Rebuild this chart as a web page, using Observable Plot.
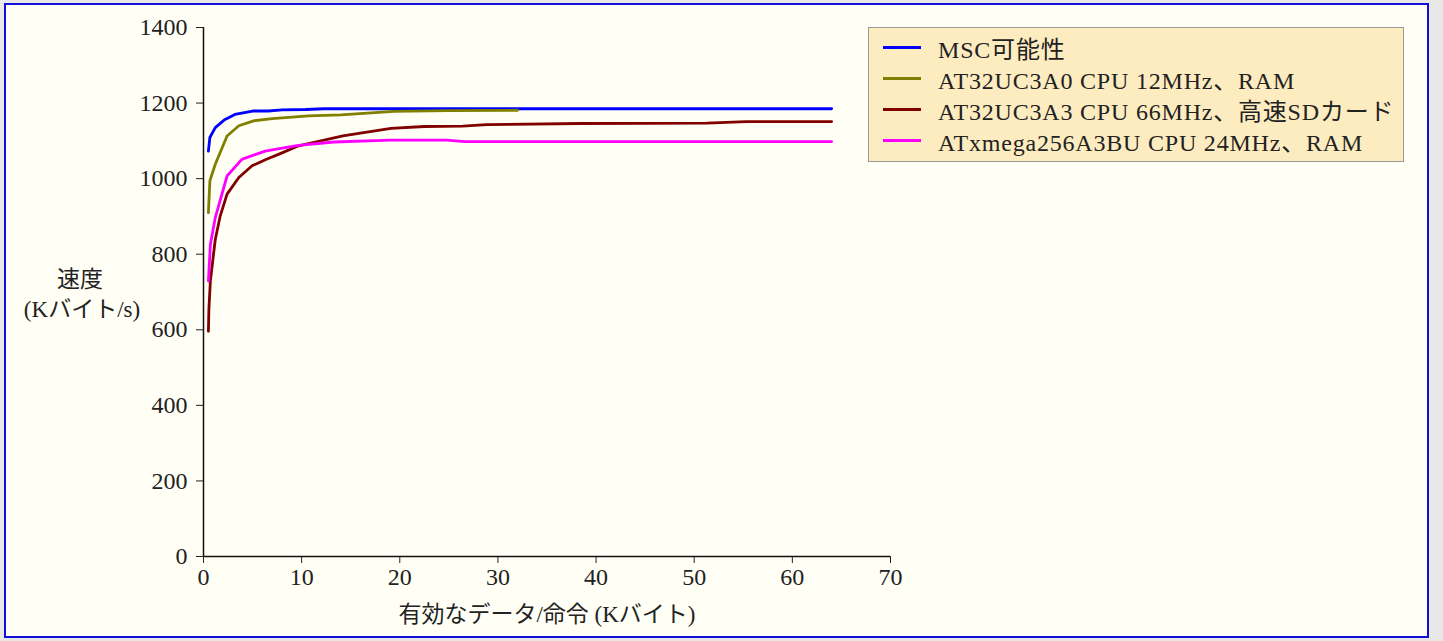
<!DOCTYPE html>
<html>
<head>
<meta charset="utf-8">
<script src="https://cdn.jsdelivr.net/npm/d3@7"></script>
<script src="https://cdn.jsdelivr.net/npm/@observablehq/plot@0.6"></script>
<style>
  html, body { margin: 0; padding: 0; }
  body { width: 1443px; height: 641px; background: #e8e8e8; position: relative; overflow: hidden;
         font-family: "Liberation Serif", "Noto Sans CJK JP", serif; color: #222; }
  #frame { position: absolute; left: 4px; top: 3px; width: 1421px; height: 631px;
           border: 2px solid #1010d8; background: #fffff6; }
  #chart { position: absolute; left: 0; top: 0; }
  #legend { position: absolute; left: 868px; top: 27px; width: 534px; height: 133px;
            background: #fdecc0; border: 1.5px solid #9a9a9a; }
  .row { position: absolute; left: 0; height: 31px; display: flex; align-items: center; font-size: 24px; white-space: nowrap; letter-spacing: 0.8px; }
  .swatch { width: 38px; height: 3px; margin-left: 14px; margin-right: 17px; }
  .title { position: absolute; font-size: 23px; white-space: nowrap; transform: translate(-50%, -50%); }
</style>
</head>
<body>
<div id="frame"></div>
<div id="chart"></div>
<div id="legend"></div>
<div class="title" style="left:80px; top:277px;">速度</div>
<div class="title" style="left:82px; top:307px;">(Kバイト/s)</div>
<div class="title" style="left:547px; top:612px;">有効なデータ/命令 (Kバイト)</div>
<script>
const seriesNames = ["MSC可能性", "AT32UC3A0 CPU 12MHz、RAM", "AT32UC3A3 CPU 66MHz、高速SDカード", "ATxmega256A3BU CPU 24MHz、RAM"];
const seriesColors = ["#0000ff", "#808000", "#800000", "#ff00ff"];

const mscX = [0.5, 0.65, 1.2, 2.1, 3.2, 5.0, 6.6, 8.0, 10.4, 12.3, 20, 32, 48, 64];
const mscY = [1073, 1109, 1135, 1155, 1170, 1179, 1179, 1182, 1183, 1185, 1185, 1185, 1185, 1185];

const a0X = [0.5, 0.65, 1.2, 2.4, 3.6, 5.1, 7.0, 10.7, 14, 19.4, 25, 32];
const a0Y = [910, 994, 1038, 1113, 1140, 1153, 1159, 1166, 1169, 1178, 1180, 1181];

const a3X = [0.5, 0.55, 0.7, 1.2, 1.7, 2.4, 3.6, 4.95, 6.3, 7.7, 9.7, 14.2, 19.1, 22.5, 26.4, 28.9, 38.4, 51.3, 55.3, 64];
const a3Y = [596, 654, 729, 839, 901, 959, 1003, 1034, 1050, 1065, 1087, 1113, 1133, 1138, 1139, 1143, 1146, 1147, 1151, 1151];

const xmX = [0.5, 0.7, 1.2, 2.4, 3.9, 6.3, 8.3, 9.7, 13.3, 19.1, 24.8, 26.6, 64];
const xmY = [729, 826, 897, 1007, 1051, 1073, 1082, 1088, 1097, 1102, 1102, 1098, 1098];

const xTicks = [0, 10, 20, 30, 40, 50, 60, 70];
const yTicks = [0, 200, 400, 600, 800, 1000, 1200, 1400];

const seriesX = [mscX, a0X, a3X, xmX];
const seriesY = [mscY, a0Y, a3Y, xmY];
const rows = [];
seriesNames.forEach((name, i) => {
  seriesX[i].forEach((x, j) => rows.push({series: name, x, y: seriesY[i][j]}));
});

const plot = Plot.plot({
  width: 1443,
  height: 641,
  marginLeft: 203,
  marginRight: 553,
  marginTop: 27,
  marginBottom: 85,
  style: {background: "transparent", fontSize: "24px", fontFamily: "'Liberation Serif', 'Noto Sans CJK JP', serif", color: "#222", overflow: "visible"},
  x: {domain: [0, 70], ticks: xTicks, tickSize: 7, tickPadding: 4, tickFormat: d => String(d), label: null},
  y: {domain: [0, 1400], ticks: yTicks, tickSize: 7, tickPadding: 9, tickFormat: d => String(d), label: null},
  color: {domain: seriesNames, range: seriesColors},
  marks: [
    Plot.ruleX([0], {stroke: "#111", strokeWidth: 1.5}),
    Plot.ruleY([0], {stroke: "#111", strokeWidth: 1.5}),
    Plot.line(rows, {x: "x", y: "y", z: "series", stroke: "series", strokeWidth: 2.8, curve: "linear"})
  ]
});
document.getElementById("chart").appendChild(plot);

const legend = document.getElementById("legend");
seriesNames.forEach((name, i) => {
  const r = document.createElement("div");
  r.className = "row";
  r.style.top = (4 + i * 31) + "px";
  r.innerHTML = `<div class="swatch" style="background:${seriesColors[i]}"></div><span>${name}</span>`;
  legend.appendChild(r);
});
</script>
</body>
</html>
